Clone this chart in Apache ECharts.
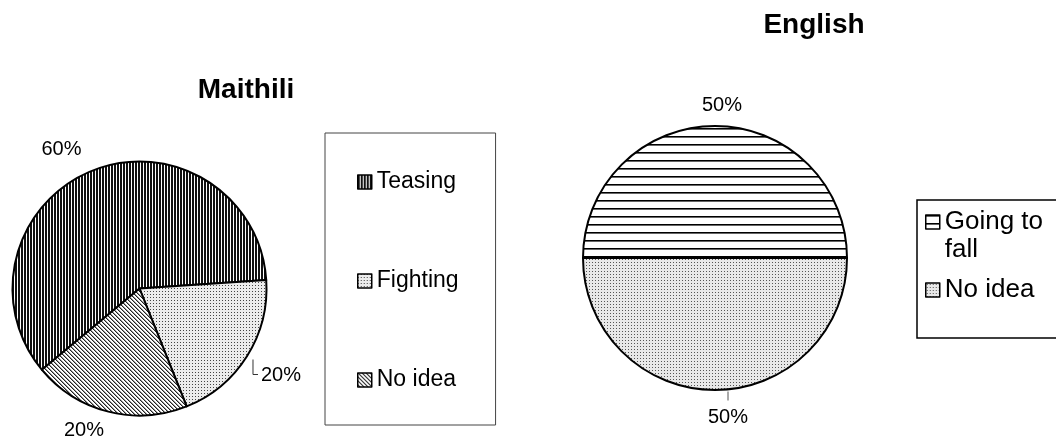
<!DOCTYPE html>
<html>
<head>
<meta charset="utf-8">
<script src="https://cdn.jsdelivr.net/npm/echarts@6/dist/echarts.min.js"></script>
<style>
  html, body { margin: 0; padding: 0; background: #fff; }
  #chart { width: 1056px; height: 442px; }
</style>
</head>
<body>
<div id="chart"></div>
<script>
// Survey answers, in percent
const chartTitles = ['Maithili', 'English'];
const maithiliCategories = ['Teasing', 'Fighting', 'No idea'];
const maithiliValues = [60, 20, 20];
const englishCategories = ['Going to fall', 'No idea'];
const englishValues = [50, 50];

const FONT = 'Liberation Sans, Arial, sans-serif';

// Small repeating tiles used as hatch fills
function tile(w, h, bg, paint) {
  const c = document.createElement('canvas');
  c.width = w; c.height = h;
  const g = c.getContext('2d');
  g.fillStyle = bg;
  g.fillRect(0, 0, w, h);
  paint(g);
  return { image: c, repeat: 'repeat' };
}
const vStripes = tile(3, 1, '#fff', g => { g.fillStyle = '#111'; g.fillRect(0, 0, 2, 1); });
const dots = tile(3, 3, '#ececec', g => { g.fillStyle = '#444'; g.fillRect(0, 0, 1, 1); });
const diagonal = tile(4, 4, '#fff', g => {
  for (let i = 0; i < 4; i++) {
    g.fillStyle = '#222'; g.fillRect(i, i, 1, 1);
    g.fillStyle = '#999'; g.fillRect((i + 1) % 4, i, 1, 1);
  }
});
const hLines = tile(1, 8, '#fff', g => {
  g.fillStyle = '#000'; g.fillRect(0, 0, 1, 1);
  g.fillStyle = '#666'; g.fillRect(0, 1, 1, 1);
});
const dotsGrey = tile(3, 3, '#e8e8e8', g => { g.fillStyle = '#555'; g.fillRect(1, 1, 1, 1); });

const maithiliFills = [vStripes, dots, diagonal];
const englishFills = [hLines, dotsGrey];

// Where each percentage label sits (label centre)
const maithiliLabelSpots = [[61.5, 149], [281, 375.5], [84, 430]];
const englishLabelSpots = [[722, 105.5], [728, 417.5]];

function placeMaithili(p) {
  const s = maithiliLabelSpots[p.dataIndex];
  const out = { x: s[0], y: s[1], align: 'center', verticalAlign: 'middle' };
  if (p.dataIndex === 1) {
    const lx = s[0] - p.labelRect.width / 2;
    out.labelLinePoints = [[lx - 8, s[1] - 16], [lx - 8, s[1] - 1], [lx - 3, s[1] - 1]];
  }
  return out;
}
function placeEnglish(p) {
  const s = englishLabelSpots[p.dataIndex];
  const out = { x: s[0], y: s[1], align: 'center', verticalAlign: 'middle' };
  if (p.dataIndex === 1) {
    out.labelLinePoints = [[s[0], s[1] - 26], [s[0], s[1] - 17]];
  }
  return out;
}

// Wrapped legend entry: a blank first line keeps "Going to" level with its swatch
function wrapEnglish(name) {
  return name === 'Going to fall' ? '\u00a0\nGoing to\nfall' : name;
}

const labelStyle = { show: true, position: 'outside', formatter: '{d}%', fontSize: 20, color: '#000', fontFamily: FONT };

const chart = echarts.init(document.getElementById('chart'), null, { renderer: 'canvas' });
chart.setOption({
  animation: false,
  backgroundColor: '#fff',
  graphic: [
    { type: 'text', x: 246, y: 90, style: { text: chartTitles[0], align: 'center', verticalAlign: 'middle', font: 'bold 28px ' + FONT, fill: '#000' } },
    { type: 'text', x: 814, y: 25, style: { text: chartTitles[1], align: 'center', verticalAlign: 'middle', font: 'bold 28px ' + FONT, fill: '#000' } },
    { type: 'rect', shape: { x: 917, y: 200, width: 150, height: 138 }, style: { fill: 'none', stroke: '#000', lineWidth: 1.5 }, z: 1 }
  ],
  legend: [
    {
      orient: 'vertical',
      left: 325, top: 133,
      padding: [37, 37, 33, 32],
      itemGap: 75,
      itemWidth: 14, itemHeight: 14,
      icon: 'rect',
      borderColor: '#444', borderWidth: 1,
      itemStyle: { borderColor: '#000', borderWidth: 1.5 },
      textStyle: { fontSize: 23, lineHeight: 24, color: '#000', fontFamily: FONT },
      data: maithiliCategories.map((n, i) => ({ name: n, itemStyle: { color: maithiliFills[i] } })),
      selectedMode: false
    },
    {
      orient: 'vertical',
      left: 925, top: 180,
      padding: 0,
      itemGap: 12,
      itemWidth: 14, itemHeight: 14,
      icon: 'rect',
      itemStyle: { borderColor: '#000', borderWidth: 1.5 },
      textStyle: { fontSize: 26, lineHeight: 28, color: '#000', fontFamily: FONT },
      formatter: wrapEnglish,
      data: englishCategories.map((n, i) => ({ name: n, itemStyle: { color: englishFills[i] } })),
      selectedMode: false
    }
  ],
  series: [
    {
      name: chartTitles[0],
      type: 'pie',
      center: [139.5, 288.5],
      radius: 127,
      startAngle: 219.8,
      clockwise: true,
      avoidLabelOverlap: false,
      silent: true,
      emphasis: { disabled: true },
      itemStyle: { borderColor: '#000', borderWidth: 2 },
      label: labelStyle,
      labelLine: { show: false, lineStyle: { color: '#333', width: 1 } },
      labelLayout: placeMaithili,
      data: maithiliCategories.map((n, i) => ({
        name: n, value: maithiliValues[i],
        itemStyle: { color: maithiliFills[i] },
        labelLine: { show: i === 1 }
      }))
    },
    {
      name: chartTitles[1],
      type: 'pie',
      center: [715, 258],
      radius: 132,
      startAngle: 180,
      clockwise: true,
      avoidLabelOverlap: false,
      silent: true,
      emphasis: { disabled: true },
      itemStyle: { borderColor: '#000', borderWidth: 2 },
      label: labelStyle,
      labelLine: { show: false, lineStyle: { color: '#555', width: 1 } },
      labelLayout: placeEnglish,
      data: englishCategories.map((n, i) => ({
        name: n, value: englishValues[i],
        itemStyle: { color: englishFills[i] },
        labelLine: { show: i === 1 }
      }))
    }
  ]
});
</script>
</body>
</html>
